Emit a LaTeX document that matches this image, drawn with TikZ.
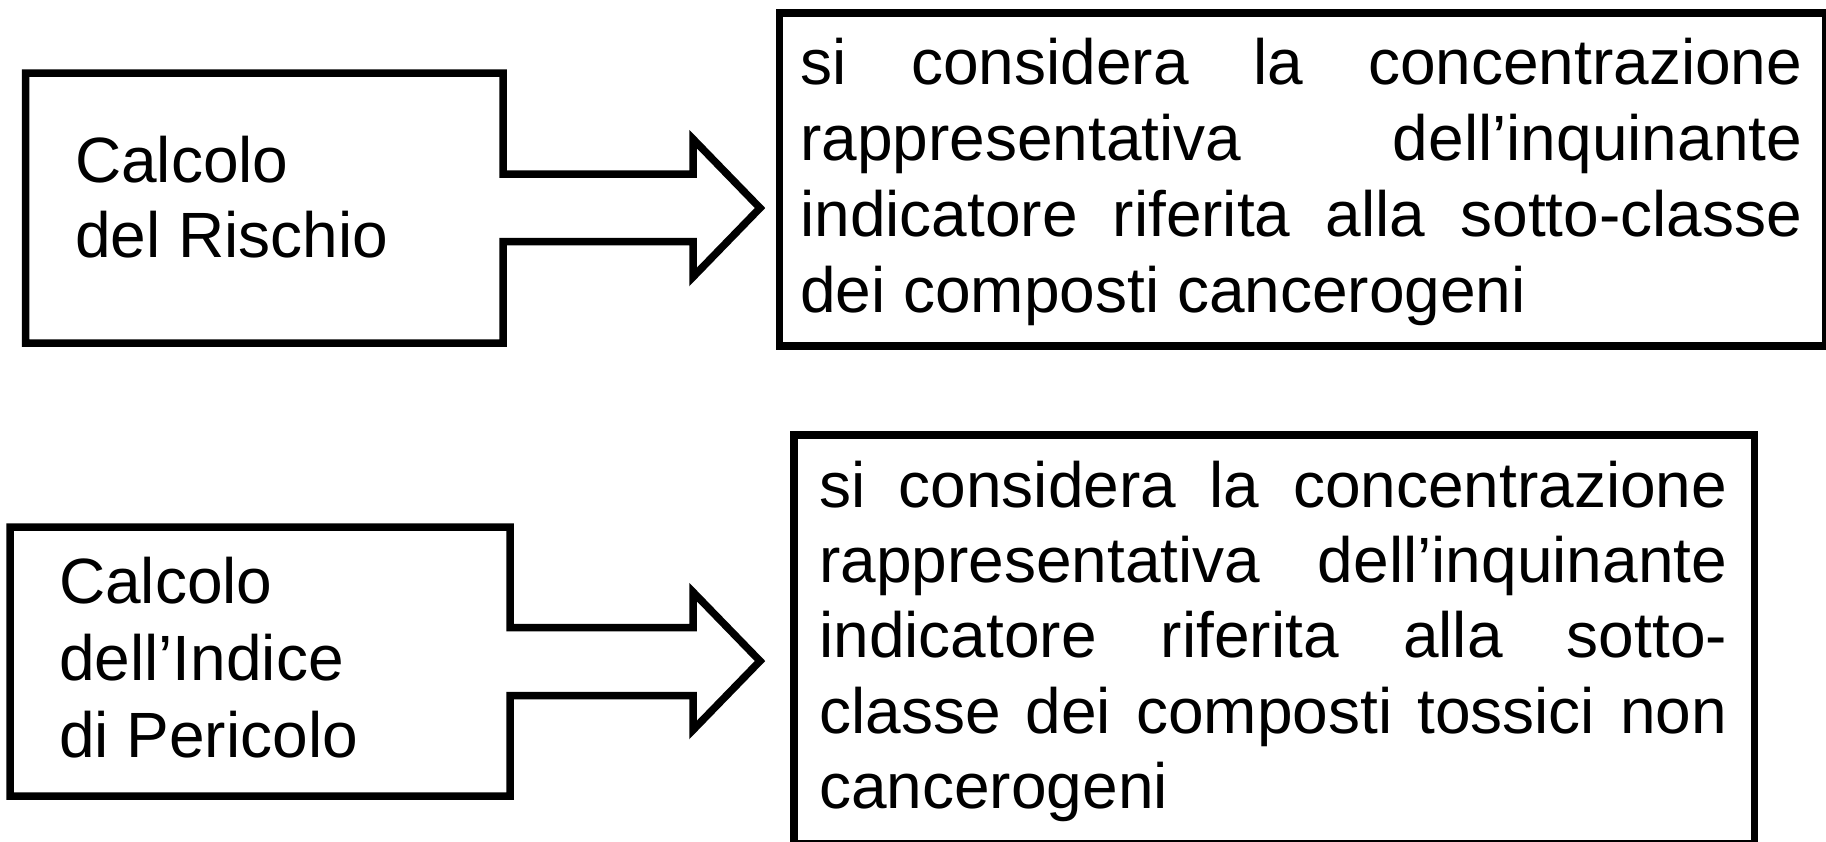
\documentclass[tikz,border=0pt]{standalone}
\usepackage{fontspec}
\setmainfont{Liberation Sans}
\begin{document}
\begin{tikzpicture}[x=1pt,y=-1pt,
  outline/.style={draw=black, line width=7.5pt, line join=miter, miter limit=10},
  tbox/.style={draw=black, line width=7.5pt, inner sep=0pt, anchor=north west},
  txt/.style={anchor=base west, inner sep=0pt, font=\fontsize{64}{76}\selectfont},
]
\useasboundingbox (0,0) rectangle (1826,841);
\fill[white] (0,0) rectangle (1826,841);

% ---- top block arrow ----
\coordinate (a1tip) at (760,208);
\draw[outline] (25.5,73) -- (503,73) -- (503,174) -- (693,174) -- (693,139)
  -- (a1tip) -- (693,277) -- (693,241.5) -- (503,241.5) -- (503,343) -- (25.5,343) -- cycle;
\node[txt] (a1l1) at (75,182) {Calcolo};
\node[txt] (a1l2) at (75,257) {del Rischio};

% ---- top right box ----
\node[tbox, minimum width=1046.5pt, minimum height=333pt] (b1) at (775.5,9) {};
\node[txt] (b1l1) at (800,84) {\makebox[1002pt][s]{si considera la concentrazione}};
\node[txt] (b1l2) at (800,160) {\makebox[1002pt][s]{rappresentativa dell’inquinante}};
\node[txt] (b1l3) at (800,236) {\makebox[1002pt][s]{indicatore riferita alla sotto-classe}};
\node[txt] (b1l4) at (800,312) {dei composti cancerogeni};

% ---- bottom block arrow ----
\coordinate (a2tip) at (760,661);
\draw[outline] (10,527) -- (510,527) -- (510,627.5) -- (693,627.5) -- (693,592)
  -- (a2tip) -- (693,730) -- (693,695.5) -- (510,695.5) -- (510,796) -- (10,796) -- cycle;
\node[txt] (a2l1) at (59,603) {Calcolo};
\node[txt] (a2l2) at (59,680) {dell’Indice};
\node[txt] (a2l3) at (59,757) {di Pericolo};

% ---- bottom right box ----
\node[tbox, minimum width=960.5pt, minimum height=409pt] (b2) at (790,431) {};
\node[txt] (b2l1) at (819,507) {\makebox[908pt][s]{si considera la concentrazione}};
\node[txt] (b2l2) at (819,582) {\makebox[908pt][s]{rappresentativa dell’inquinante}};
\node[txt] (b2l3) at (819,657) {\makebox[908pt][s]{indicatore riferita alla sotto-}};
\node[txt] (b2l4) at (819,733) {\makebox[908pt][s]{classe dei composti tossici non}};
\node[txt] (b2l5) at (819,808) {cancerogeni};
\end{tikzpicture}
\end{document}
